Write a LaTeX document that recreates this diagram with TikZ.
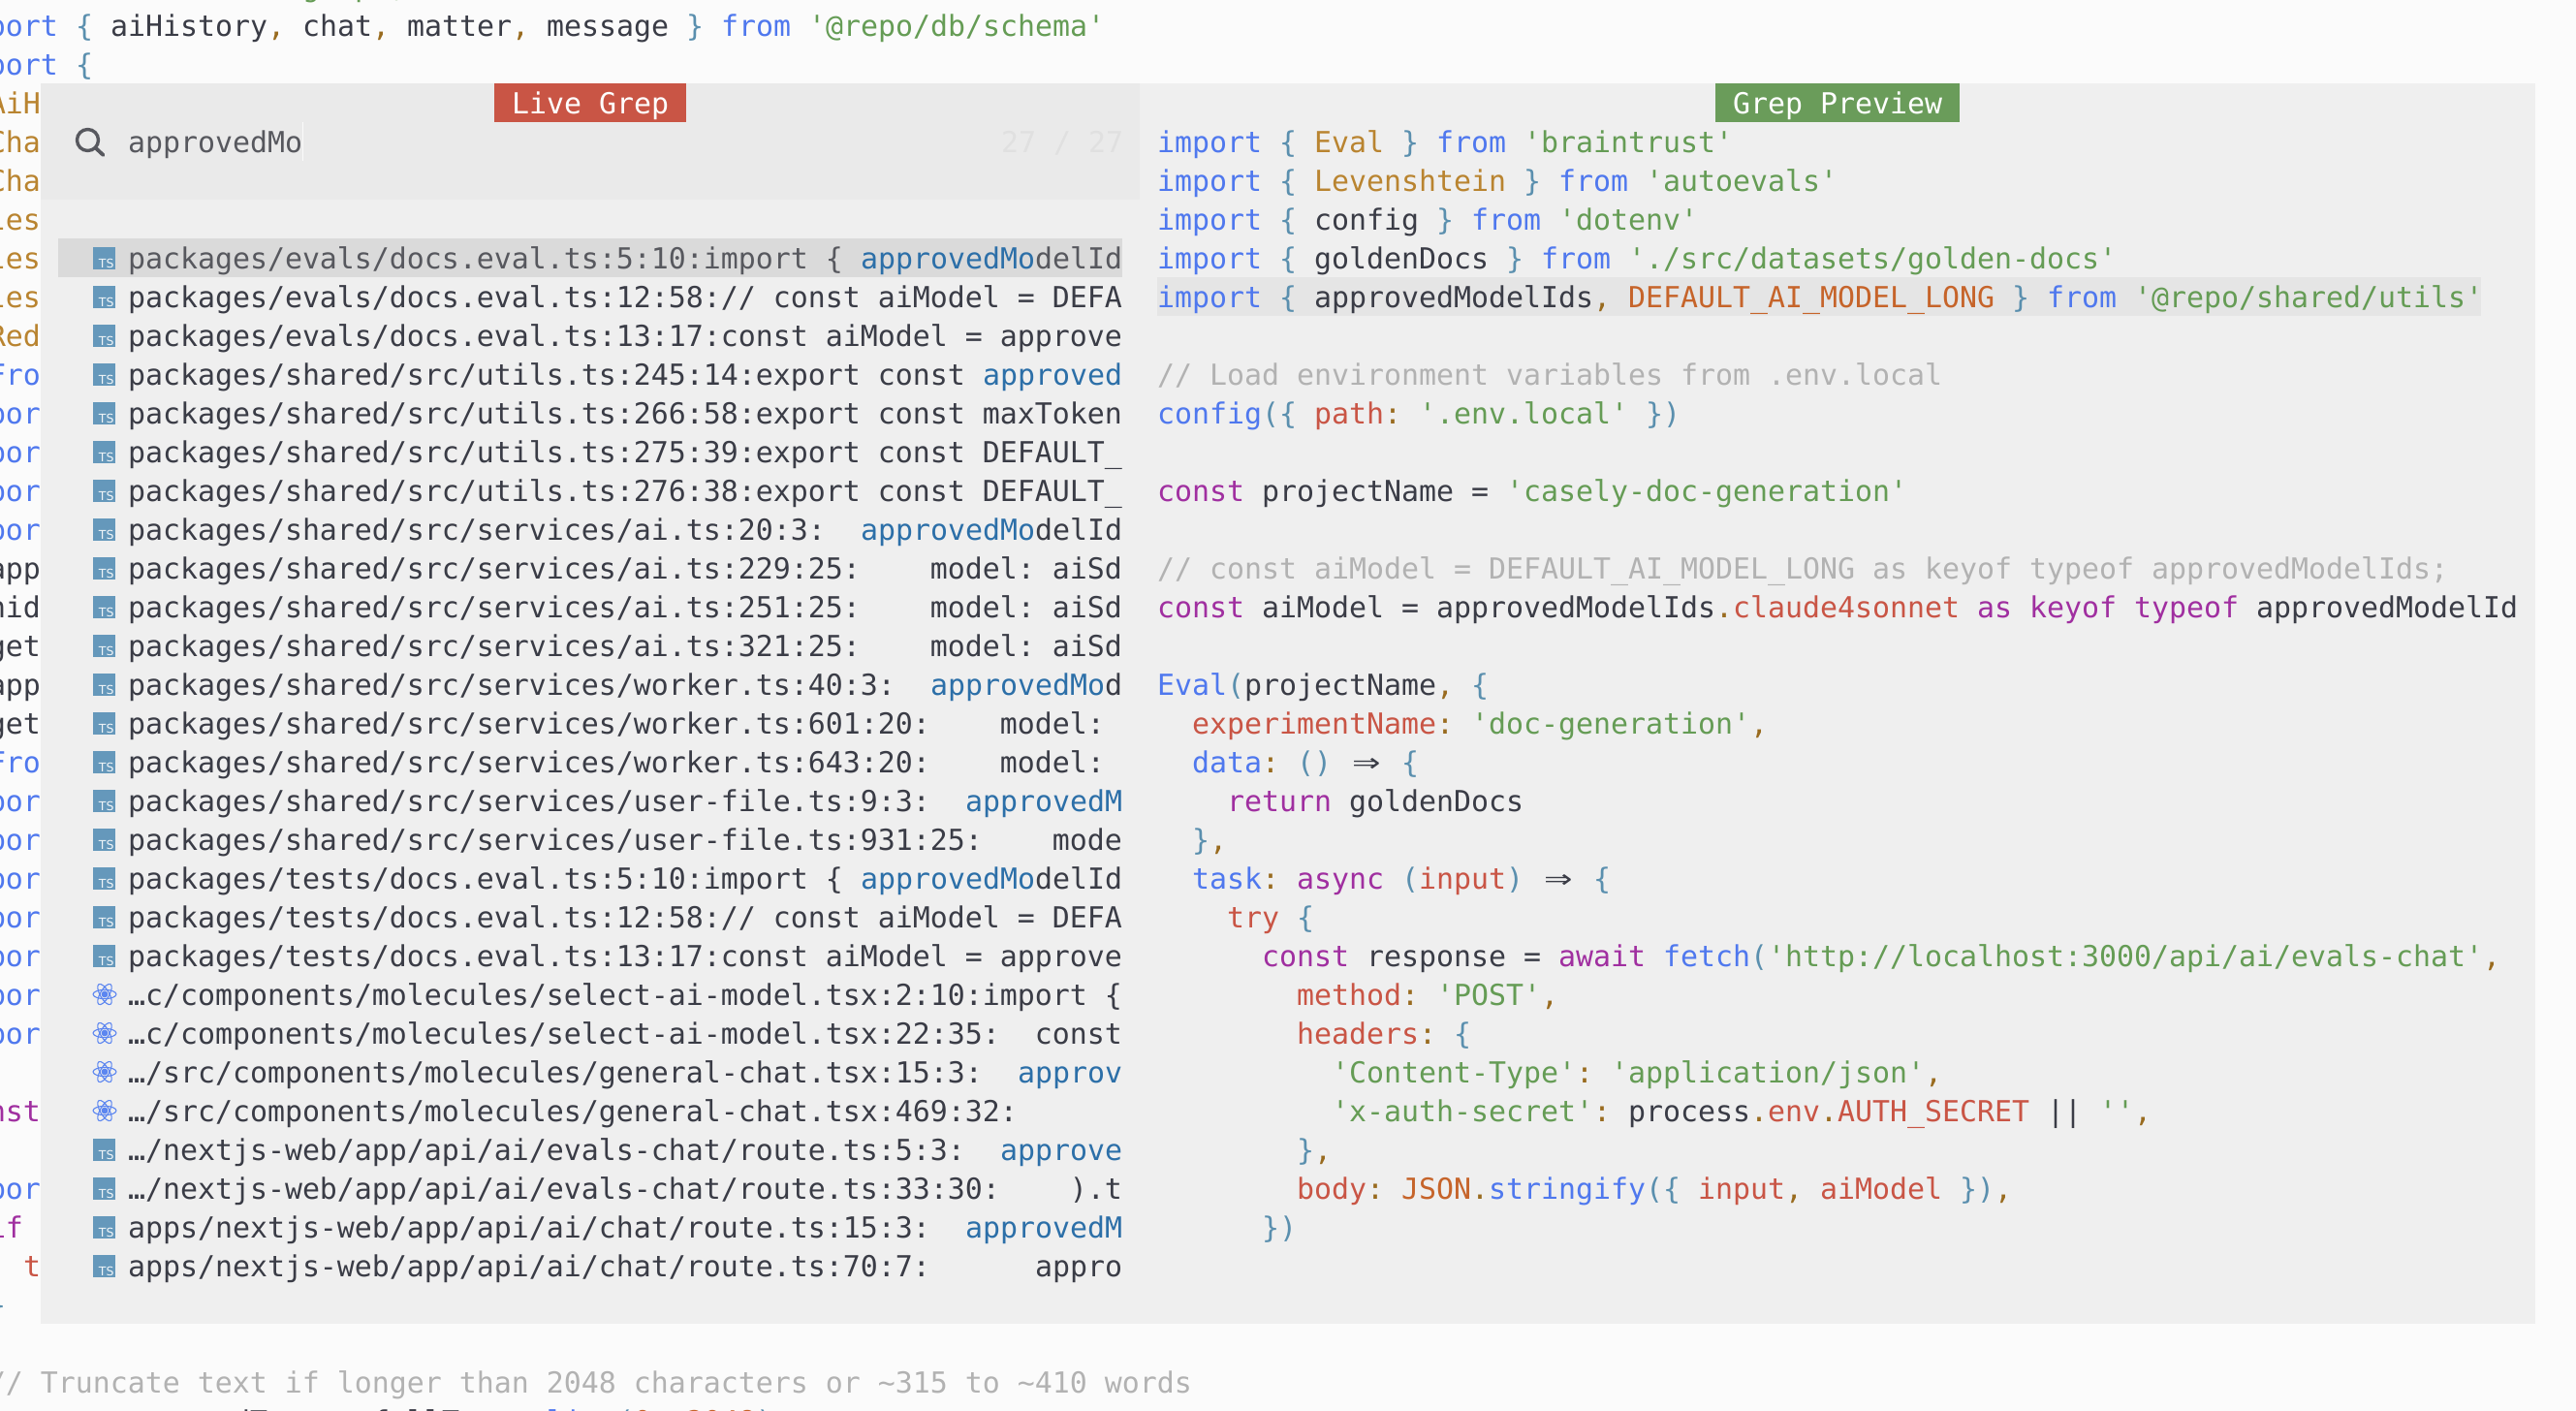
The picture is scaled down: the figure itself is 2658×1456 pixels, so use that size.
\documentclass[tikz,border=0pt]{standalone}
\usepackage{fontspec}
\usepackage{graphicx}
\newfontfamily\codefam{DejaVu Sans Mono}
\newfontfamily\iconfam{DejaVu Sans}
\newcommand\codefont{\frenchspacing\codefam\fontsize{29.9pt}{40pt}\selectfont}
\definecolor{pagebg}{HTML}{FBFBFB}
\definecolor{panelbg}{HTML}{EFEFEF}
\definecolor{promptbg}{HTML}{EAEAEA}
\definecolor{selbg}{HTML}{DADADA}
\definecolor{hlbg}{HTML}{E5E5E5}
\definecolor{fg}{HTML}{3A3C46}
\definecolor{dimfg}{HTML}{57585E}
\definecolor{ckw}{HTML}{4F78EE}
\definecolor{cbr}{HTML}{5A8FAE}
\definecolor{cty}{HTML}{B98430}
\definecolor{cpn}{HTML}{996B1F}
\definecolor{cst}{HTML}{659C55}
\definecolor{crd}{HTML}{C95545}
\definecolor{cpu}{HTML}{A02FA0}
\definecolor{cog}{HTML}{C6642A}
\definecolor{ccm}{HTML}{B2B2B2}
\definecolor{cmt}{HTML}{2C6FA8}
\definecolor{tsblue}{HTML}{6598BB}
\definecolor{reactblue}{HTML}{5C86F0}
\definecolor{labred}{HTML}{C95545}
\definecolor{labgreen}{HTML}{6A9C5A}
\newcommand\xkw[1]{\textcolor{ckw}{#1}}
\newcommand\xbr[1]{\textcolor{cbr}{#1}}
\newcommand\xty[1]{\textcolor{cty}{#1}}
\newcommand\xpn[1]{\textcolor{cpn}{#1}}
\newcommand\xst[1]{\textcolor{cst}{#1}}
\newcommand\xrd[1]{\textcolor{crd}{#1}}
\newcommand\xpu[1]{\textcolor{cpu}{#1}}
\newcommand\xog[1]{\textcolor{cog}{#1}}
\newcommand\xmt[1]{\textcolor{cmt}{#1}}
\newcommand\hsp[1]{\hspace*{\dimexpr #1\dimexpr 18pt\relax\relax}}
\newcommand\xarrow{\makebox[36pt][c]{\scalebox{1.6}[1.15]{⇒}}}
\tikzset{
  code/.style={anchor=base west,inner sep=0pt,outer sep=0pt,font=\codefont,text=fg},
  labelbox/.style={anchor=north west,minimum height=40pt,inner sep=0pt,outer sep=0pt,font=\codefont,text=white},
  tslabel/.style={anchor=base east,inner sep=0pt,outer sep=0pt,font=\iconfam\fontsize{12.5pt}{13pt}\selectfont,text=white!90!tsblue},
}
\newcommand\bline[3]{\node[code] (b#1c#2) at ({-48+18*#2},{37+40*#1}) {#3};}
\newcommand\pline[3]{\node[code] (p#1) at ({1194+18*#2},{157+40*#1}) {#3};}
\newcommand\rline[2]{\node[code] (r#1) at (132,{277+40*(#1-1)}) {#2};}
\begin{document}
\begin{tikzpicture}[x=1pt,y=-1pt]
\useasboundingbox (0,0) rectangle (2658,1456);
\fill[pagebg] (0,0) rectangle (2658,1456);
% editor behind the panel
\node[code,text=cst] (b0top) at (312,-3) {g\hsp{2}p\hsp{1},};
\bline{0}{0}{\xkw{import} \xbr{\{} aiHistory\xpn{,} chat\xpn{,} matter\xpn{,} message \xbr{\}} \xkw{from} \xst{'@repo/db/schema'}}
\bline{1}{0}{\xkw{import} \xbr{\{}}
\bline{2}{2}{\xty{AiH}}
\bline{3}{2}{\xty{Cha}}
\bline{4}{2}{\xty{Cha}}
\bline{5}{2}{\xty{les}}
\bline{6}{2}{\xty{les}}
\bline{7}{2}{\xty{les}}
\bline{8}{2}{\xty{Red}}
\bline{9}{2}{\xkw{Fro}}
\bline{10}{2}{\xkw{por}}
\bline{11}{2}{\xkw{por}}
\bline{12}{2}{\xkw{por}}
\bline{13}{2}{\xkw{por}}
\bline{14}{2}{app}
\bline{15}{2}{nid}
\bline{16}{2}{get}
\bline{17}{2}{app}
\bline{18}{2}{get}
\bline{19}{2}{\xkw{Fro}}
\bline{20}{2}{\xkw{por}}
\bline{21}{2}{\xkw{por}}
\bline{22}{2}{\xkw{por}}
\bline{23}{2}{\xkw{por}}
\bline{24}{2}{\xkw{por}}
\bline{25}{2}{\xkw{por}}
\bline{26}{2}{\xkw{por}}
\bline{28}{2}{\xpu{nst}}
\bline{30}{2}{\xkw{por}}
\bline{31}{2}{\xpu{if}}
\bline{32}{4}{\xrd{t}}
\bline{33}{2}{\xbr{\}}}
\bline{35}{2}{\textcolor{ccm}{// Truncate text if longer than 2048 characters or \textasciitilde315 to \textasciitilde410 words}}
\bline{36}{2}{\xpu{const} truncatedText = fullText\xpn{.}\xkw{slice}\xbr{(}\xog{0}\xpn{,} \xog{2048}\xbr{)}}
% panel
\fill[panelbg] (42,86) rectangle (2616,1366);
\fill[promptbg] (42,86) rectangle (1176,206);
\fill[selbg] (60,246) rectangle (1158,286);
\fill[hlbg] (1194,286) rectangle (2560,326);
% titles
\node[labelbox,fill=labred,minimum width=198pt] (livegrep) at (510,86) {};
\node[code,text=white] (livegreptext) at (528,117) {Live Grep};
\node[labelbox,fill=labgreen,minimum width=252pt] (greppreview) at (1770,86) {};
\node[code,text=white] (greppreviewtext) at (1788,117) {Grep Preview};
% prompt
\draw[dimfg,line width=3.4pt] (90.5,144.5) circle (11);
\draw[dimfg,line width=3.8pt,line cap=round] (98.8,152.8) -- (106.5,160);
\node[code,text=dimfg] (query) at (132,157) {approvedMo};
\draw[white!80!promptbg,line width=1pt] (312,126) -- (312,166);
\node[code,text=black!12] (counter) at (1033,157) {27 / 27};
% file icons
\foreach \n in {1,...,19,24,25,26,27}{
  \fill[tsblue] (96,{255+40*(\n-1)}) rectangle (119,{278+40*(\n-1)});
  \node[tslabel] (ts\n) at (117.5,{276+40*(\n-1)}) {TS};
}
\foreach \n in {20,...,23}{
  \foreach \a in {0,60,120}{
    \draw[reactblue,line width=1.1pt,rotate around={\a:(108,{266+40*(\n-1)})}] (108,{266+40*(\n-1)}) ellipse (12 and 4.6);
  }
  \fill[reactblue] (108,{266+40*(\n-1)}) circle (3.4);
}
% results
\rline{1}{\color{dimfg}packages/evals/docs.eval.ts:5:10:import \{ \xmt{approvedMo}delId}
\rline{2}{packages/evals/docs.eval.ts:12:58:// const aiModel = DEFA}
\rline{3}{packages/evals/docs.eval.ts:13:17:const aiModel = approve}
\rline{4}{packages/shared/src/utils.ts:245:14:export const \xmt{approved}}
\rline{5}{packages/shared/src/utils.ts:266:58:export const maxToken}
\rline{6}{packages/shared/src/utils.ts:275:39:export const DEFAULT\_}
\rline{7}{packages/shared/src/utils.ts:276:38:export const DEFAULT\_}
\rline{8}{packages/shared/src/services/ai.ts:20:3:\hsp{2}\xmt{approvedMo}delId}
\rline{9}{packages/shared/src/services/ai.ts:229:25:\hsp{4}model: aiSd}
\rline{10}{packages/shared/src/services/ai.ts:251:25:\hsp{4}model: aiSd}
\rline{11}{packages/shared/src/services/ai.ts:321:25:\hsp{4}model: aiSd}
\rline{12}{packages/shared/src/services/worker.ts:40:3:\hsp{2}\xmt{approvedMo}d}
\rline{13}{packages/shared/src/services/worker.ts:601:20:\hsp{4}model:}
\rline{14}{packages/shared/src/services/worker.ts:643:20:\hsp{4}model:}
\rline{15}{packages/shared/src/services/user-file.ts:9:3:\hsp{2}\xmt{approvedM}}
\rline{16}{packages/shared/src/services/user-file.ts:931:25:\hsp{4}mode}
\rline{17}{packages/tests/docs.eval.ts:5:10:import \{ \xmt{approvedMo}delId}
\rline{18}{packages/tests/docs.eval.ts:12:58:// const aiModel = DEFA}
\rline{19}{packages/tests/docs.eval.ts:13:17:const aiModel = approve}
\rline{20}{…c/components/molecules/select-ai-model.tsx:2:10:import \{}
\rline{21}{…c/components/molecules/select-ai-model.tsx:22:35:\hsp{2}const}
\rline{22}{…/src/components/molecules/general-chat.tsx:15:3:\hsp{2}\xmt{approv}}
\rline{23}{…/src/components/molecules/general-chat.tsx:469:32:}
\rline{24}{…/nextjs-web/app/api/ai/evals-chat/route.ts:5:3:\hsp{2}\xmt{approve}}
\rline{25}{…/nextjs-web/app/api/ai/evals-chat/route.ts:33:30:\hsp{4}).t}
\rline{26}{apps/nextjs-web/app/api/ai/chat/route.ts:15:3:\hsp{2}\xmt{approvedM}}
\rline{27}{apps/nextjs-web/app/api/ai/chat/route.ts:70:7:\hsp{6}appro}
% preview
\pline{0}{0}{\xkw{import} \xbr{\{} \xty{Eval} \xbr{\}} \xkw{from} \xst{'braintrust'}}
\pline{1}{0}{\xkw{import} \xbr{\{} \xty{Levenshtein} \xbr{\}} \xkw{from} \xst{'autoevals'}}
\pline{2}{0}{\xkw{import} \xbr{\{} config \xbr{\}} \xkw{from} \xst{'dotenv'}}
\pline{3}{0}{\xkw{import} \xbr{\{} goldenDocs \xbr{\}} \xkw{from} \xst{'./src/datasets/golden-docs'}}
\pline{4}{0}{\xkw{import} \xbr{\{} approvedModelIds\xpn{,} \xog{DEFAULT\_AI\_MODEL\_LONG} \xbr{\}} \xkw{from} \xst{'@repo/shared/utils'}}
\pline{6}{0}{\textcolor{ccm}{// Load environment variables from .env.local}}
\pline{7}{0}{\xkw{config}\xbr{(\{} \xrd{path}\xpn{:} \xst{'.env.local'} \xbr{\})}}
\pline{9}{0}{\xpu{const} projectName = \xst{'casely-doc-generation'}}
\pline{11}{0}{\textcolor{ccm}{// const aiModel = DEFAULT\_AI\_MODEL\_LONG as keyof typeof approvedModelIds;}}
\pline{12}{0}{\xpu{const} aiModel = approvedModelIds\xpn{.}\xrd{claude4sonnet} \xpu{as} \xpu{keyof} \xpu{typeof} approvedModelId}
\pline{14}{0}{\xkw{Eval}\xbr{(}projectName\xpn{,} \xbr{\{}}
\pline{15}{2}{\xrd{experimentName}\xpn{:} \xst{'doc-generation'}\xpn{,}}
\pline{16}{2}{\xkw{data}\xpn{:} \xbr{()} \xarrow{} \xbr{\{}}
\pline{17}{4}{\xpu{return} goldenDocs}
\pline{18}{2}{\xbr{\}}\xpn{,}}
\pline{19}{2}{\xkw{task}\xpn{:} \xpu{async} \xbr{(}\xrd{input}\xbr{)} \xarrow{} \xbr{\{}}
\pline{20}{4}{\xrd{try} \xbr{\{}}
\pline{21}{6}{\xpu{const} response = \xpu{await} \xkw{fetch}\xbr{(}\xst{'http://localhost:3000/api/ai/evals-chat'}\xpn{,}}
\pline{22}{8}{\xrd{method}\xpn{:} \xst{'POST'}\xpn{,}}
\pline{23}{8}{\xrd{headers}\xpn{:} \xbr{\{}}
\pline{24}{10}{\xst{'Content-Type'}\xpn{:} \xst{'application/json'}\xpn{,}}
\pline{25}{10}{\xst{'x-auth-secret'}\xpn{:} process\xpn{.}\xrd{env}\xpn{.}\xrd{AUTH\_SECRET} || \xst{''}\xpn{,}}
\pline{26}{8}{\xbr{\}}\xpn{,}}
\pline{27}{8}{\xrd{body}\xpn{:} \xog{JSON}\xpn{.}\xkw{stringify}\xbr{(\{} \xrd{input}\xpn{,} \xrd{aiModel} \xbr{\})}\xpn{,}}
\pline{28}{6}{\xbr{\})}}
\end{tikzpicture}
\end{document}
